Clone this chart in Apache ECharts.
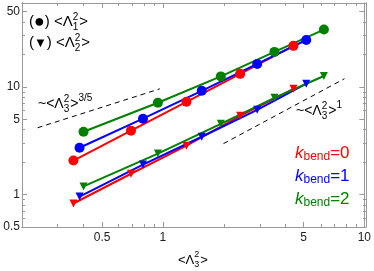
<!DOCTYPE html>
<html><head><meta charset="utf-8">
<script src="https://cdn.jsdelivr.net/npm/echarts@6/dist/echarts.min.js"></script>
<style>html,body{margin:0;padding:0;background:#fff}#c{width:374px;height:271px}</style>
</head><body><div id="c"></div>
<script>
// ---- data ----
const x_red   = [0.36, 0.695, 1.31, 2.42, 4.45];
const x_blue  = [0.386, 0.797, 1.56, 2.94, 5.15];
const x_green = [0.404, 0.945, 1.94, 3.58, 6.3];
const l1_red   = [2.07, 3.92, 7.26, 13.2, 24.0];
const l1_blue  = [2.72, 5.06, 9.18, 16.3, 27.2];
const l1_green = [3.83, 7.11, 12.5, 21.1, 34.0];
const l2_red   = [0.826, 1.56, 2.84, 5.38, 9.58];
const l2_blue  = [0.958, 1.90, 3.44, 6.12, 10.7];
const l2_green = [1.19, 2.40, 4.54, 7.91, 12.6];
const guide35_x = [0.239, 0.966];
const guide35_y = [4.17, 9.58];
const guide1_x = [2.0, 7.97];
const guide1_y = [2.97, 11.9];
const xMajor = [0.5, 1, 5, 10];
const xMinor = [0.3, 0.4, 0.6, 0.7, 0.8, 0.9, 2, 3, 4, 6, 7, 8, 9];
const yMajor = [0.5, 1, 5, 10, 50];
const yMinor = [0.6, 0.7, 0.8, 0.9, 2, 3, 4, 6, 7, 8, 9, 20, 30, 40];
const kLabels = ['0', '1', '2'];

const RED = '#ff0000', BLUE = '#0000ff', GREEN = '#008000', FRAME = '#999999';
const zip = (a, b) => a.map((v, i) => [v, b[i]]);
const FONT = '"Liberation Sans", Arial, sans-serif';

const chart = echarts.init(document.getElementById('c'));
const gridRect = {left: 22, right: 8, top: 3, bottom: 44};
const X = {min: 0.2, max: 10, logBase: 10, type: 'log'};
const Y = {min: 0.5, max: 60, logBase: 10, type: 'log'};
const lab = v => String(v);
function xa(grid, pos, major, showLabel) {
  return Object.assign({}, X, {
    gridIndex: grid, position: pos,
    axisLine: {show: true, lineStyle: {color: FRAME, width: 1}},
    axisTick: {show: true, inside: true, length: major ? 5 : 3, customValues: major ? xMajor : xMinor, lineStyle: {color: FRAME}},
    axisLabel: {show: showLabel, customValues: xMajor, formatter: lab, color: '#222', fontSize: 12, fontFamily: FONT, margin: 5},
    splitLine: {show: false}, minorTick: {show: false}
  });
}
function ya(grid, pos, major, showLabel) {
  return Object.assign({}, Y, {
    gridIndex: grid, position: pos,
    axisLine: {show: true, lineStyle: {color: FRAME, width: 1}},
    axisTick: {show: true, inside: true, length: major ? 5 : 3, customValues: major ? yMajor : yMinor, lineStyle: {color: FRAME}},
    axisLabel: {show: showLabel, customValues: yMajor, formatter: lab, color: '#222', fontSize: 12, fontFamily: FONT, margin: 2},
    splitLine: {show: false}, minorTick: {show: false}
  });
}
function line(xs, ys, color, sym, size, rot) {
  return {type: 'line', xAxisIndex: 0, yAxisIndex: 0, data: zip(xs, ys),
    lineStyle: {color, width: 2}, itemStyle: {color}, symbol: sym, symbolSize: size,
    symbolRotate: rot || 0, showSymbol: true, animation: false, z: 3};
}
function guide(xs, ys) {
  return {type: 'line', xAxisIndex: 0, yAxisIndex: 0, data: zip(xs, ys), symbol: 'none',
    lineStyle: {color: '#000', width: 1, type: [5, 4]}, animation: false, silent: true, z: 2};
}

// text helper for Λ with stacked sub/superscript
const mctx = document.createElement('canvas').getContext('2d');
function tw(t, size, style) { mctx.font = (style || '') + ' ' + size + 'px ' + FONT; return mctx.measureText(t).width; }
function T(x, y, segs, color) {
  const out = []; let cx = x;
  segs.forEach(s => {
    if (s.t !== undefined) {
      out.push({type: 'text', x: cx, y: y + (s.dy || 0), style: {text: s.t, font: (s.st || '') + ' ' + s.s + 'px ' + FONT, fill: color, verticalAlign: 'middle'}, z: 10});
      cx += tw(s.t, s.s, s.st) + (s.gap || 0);
    } else {
      let w = 0;
      if (s.sup) { out.push({type: 'text', x: cx, y: y - s.up, style: {text: s.sup, font: s.s + 'px ' + FONT, fill: color, verticalAlign: 'middle'}, z: 10}); w = Math.max(w, tw(s.sup, s.s)); }
      if (s.sub) { out.push({type: 'text', x: cx, y: y + s.dn, style: {text: s.sub, font: s.s + 'px ' + FONT, fill: color, verticalAlign: 'middle'}, z: 10}); w = Math.max(w, tw(s.sub, s.s)); }
      cx += w + 1;
    }
  });
  return out;
}
const lam = (sub, sup, big, small) => [{t: 'Λ', s: big}, {sub, sup, s: small, up: 5, dn: 5}];
let g = [];
g = g.concat(T(29, 22, [{t: '(', s: 15}, {t: '●', s: 18, dy: 0}, {t: ') <', s: 15}, ...lam('1', '2', 15, 10), {t: '>', s: 15}], '#000'));
g = g.concat(T(29, 43, [{t: '(', s: 15}, {t: '▼', s: 13, dy: 0}, {t: ') <', s: 15}, ...lam('2', '2', 15, 10), {t: '>', s: 15}], '#000'));
g = g.concat(T(38, 104, [{t: '~<', s: 14}, ...lam('3', '2', 14, 10), {t: '>', s: 14}, {t: '3/5', s: 10, dy: -6}], '#000'));
g = g.concat(T(296, 111, [{t: '~<', s: 14}, ...lam('3', '2', 14, 10), {t: '>', s: 14}, {t: '1', s: 10, dy: -6}], '#000'));
g = g.concat(T(178, 260, [{t: '<', s: 13}, ...lam('3', '2', 13, 9), {t: '>', s: 13}], '#000'));
[[RED, 153], [BLUE, 176], [GREEN, 199]].forEach(([c, yy], i) => {
  g = g.concat(T(295, yy, [{t: 'k', s: 17, st: 'italic'}, {t: 'bend', s: 12, dy: 4}, {t: '=' + kLabels[i], s: 17}], c));
});

chart.setOption({
  animation: false,
  backgroundColor: '#fff',
  grid: [Object.assign({}, gridRect), Object.assign({}, gridRect)],
  xAxis: [xa(0, 'bottom', true, true), xa(0, 'top', true, false), xa(1, 'bottom', false, false), xa(1, 'top', false, false)],
  yAxis: [ya(0, 'left', true, true), ya(0, 'right', true, false), ya(1, 'left', false, false), ya(1, 'right', false, false)],
  series: [
    guide(guide35_x, guide35_y), guide(guide1_x, guide1_y),
    line(x_red, l1_red, RED, 'circle', 10), line(x_blue, l1_blue, BLUE, 'circle', 10), line(x_green, l1_green, GREEN, 'circle', 10),
    line(x_red, l2_red, RED, 'triangle', 8, 180), line(x_blue, l2_blue, BLUE, 'triangle', 8, 180), line(x_green, l2_green, GREEN, 'triangle', 8, 180)
  ],
  graphic: g
});
</script></body></html>
